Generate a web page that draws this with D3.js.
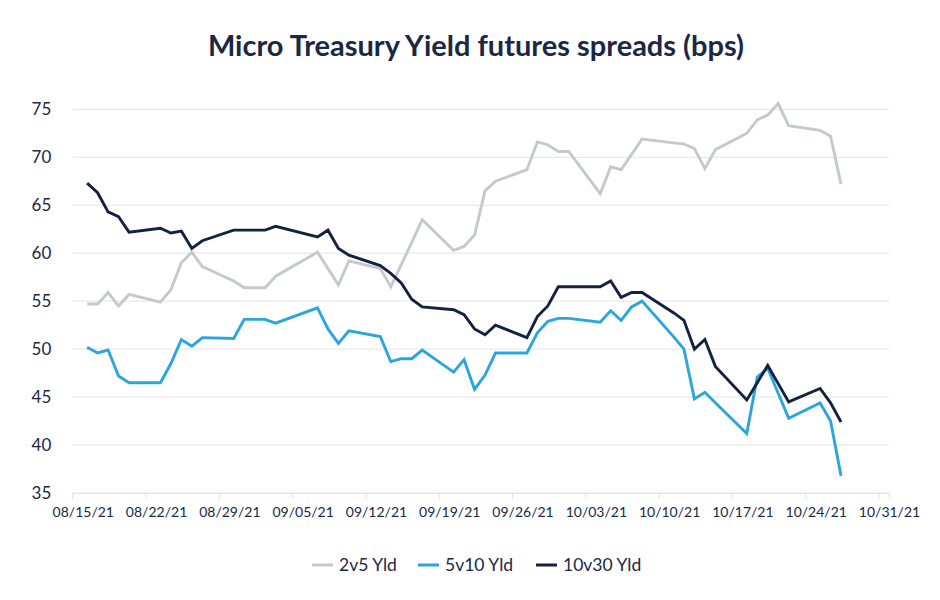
<!DOCTYPE html>
<html>
<head>
<meta charset="utf-8">
<script src="https://cdn.jsdelivr.net/npm/d3@7"></script>
<style>
  html, body { margin: 0; padding: 0; background: #fff; }
  svg { display: block; }
</style>
</head>
<body>
<svg id="chart" width="940" height="600"></svg>
<script>
// ---- Data ----
const dates = [
  "2021-08-16","2021-08-17","2021-08-18","2021-08-19","2021-08-20",
  "2021-08-23","2021-08-24","2021-08-25","2021-08-26","2021-08-27",
  "2021-08-30","2021-08-31","2021-09-01","2021-09-02","2021-09-03",
  "2021-09-07","2021-09-08","2021-09-09","2021-09-10",
  "2021-09-13","2021-09-14","2021-09-15","2021-09-16","2021-09-17",
  "2021-09-20","2021-09-21","2021-09-22","2021-09-23","2021-09-24",
  "2021-09-27","2021-09-28","2021-09-29","2021-09-30","2021-10-01",
  "2021-10-04","2021-10-05","2021-10-06","2021-10-07","2021-10-08",
  "2021-10-11","2021-10-12","2021-10-13","2021-10-14","2021-10-15",
  "2021-10-18","2021-10-19","2021-10-20","2021-10-21","2021-10-22",
  "2021-10-25","2021-10-26","2021-10-27"
];

const yld2v5 = [
  54.7, 54.7, 55.9, 54.5, 55.7,
  54.9, 56.2, 59.0, 60.1, 58.6,
  57.1, 56.4, 56.4, 56.4, 57.6,
  60.1, 58.4, 56.7, 59.2,
  58.4, 56.5, 58.8, 61.1, 63.5,
  60.3, 60.7, 61.9, 66.5, 67.5,
  68.7, 71.6, 71.3, 70.6, 70.6,
  66.2, 69.0, 68.7, 70.3, 71.9,
  71.5, 71.4, 70.9, 68.8, 70.8,
  72.5, 73.9, 74.4, 75.6, 73.3,
  72.8, 72.2, 67.2
];

const yld5v10 = [
  50.2, 49.6, 49.9, 47.2, 46.5,
  46.5, 48.5, 51.0, 50.3, 51.2,
  51.1, 53.1, 53.1, 53.1, 52.7,
  54.3, 52.1, 50.6, 51.9,
  51.3, 48.7, 49.0, 49.0, 49.9,
  47.6, 48.9, 45.8, 47.3, 49.6,
  49.6, 51.7, 52.9, 53.2, 53.2,
  52.8, 54.0, 53.0, 54.4, 55.0,
  51.3, 50.0, 44.8, 45.5, 44.4,
  41.2, 47.1, 48.0, 45.4, 42.8,
  44.4, 42.5, 36.8
];

const yld10v30 = [
  67.3, 66.3, 64.3, 63.8, 62.2,
  62.6, 62.1, 62.3, 60.5, 61.3,
  62.4, 62.4, 62.4, 62.4, 62.8,
  61.7, 62.4, 60.5, 59.8,
  58.7, 57.9, 56.9, 55.2, 54.4,
  54.1, 53.6, 52.1, 51.5, 52.5,
  51.2, 53.4, 54.5, 56.5, 56.5,
  56.5, 57.1, 55.4, 55.9, 55.9,
  53.8, 53.0, 50.0, 51.0, 48.2,
  44.7, 46.5, 48.3, 46.4, 44.5,
  45.9, 44.4, 42.4
];

const seriesNames = ["2v5 Yld", "5v10 Yld", "10v30 Yld"];
const yTicks = [35, 40, 45, 50, 55, 60, 65, 70, 75];
const xTickDates = ["2021-08-15","2021-08-22","2021-08-29","2021-09-05","2021-09-12",
  "2021-09-19","2021-09-26","2021-10-03","2021-10-10","2021-10-17","2021-10-24","2021-10-31"];
const xDomain = ["2021-08-15", "2021-11-01"];
const titleText = "Micro Treasury Yield futures spreads (bps)";

// ---- Setup ----
const colors = ["#c5c9cd", "#2ba6dc", "#15223f"];
const textColor = "#1a2844";
const parse = d3.timeParse("%Y-%m-%d");
const fmt = d3.timeFormat("%m/%d/%y");

const svg = d3.select("#chart");
const margin = { left: 72.3, right: 51, top: 109.3, bottom: 107 };
const W = 940, H = 600;

const x = d3.scaleTime()
  .domain(xDomain.map(parse))
  .range([margin.left, W - margin.right]);
const y = d3.scaleLinear()
  .domain([35, 75])
  .range([H - margin.bottom, margin.top]);

// data points sit late in each trading day
const px = d => x(d3.timeHour.offset(parse(d), 10));

// Title
svg.append("text")
  .attr("x", 476).attr("y", 56)
  .attr("text-anchor", "middle")
  .attr("font-family", "Lato, 'Open Sans', sans-serif")
  .attr("font-weight", 700)
  .attr("font-size", 29)
  .attr("fill", textColor)
  .text(titleText);

// Gridlines
svg.append("g")
  .selectAll("line")
  .data(yTicks)
  .join("line")
  .attr("x1", margin.left).attr("x2", W - margin.right)
  .attr("y1", d => y(d)).attr("y2", d => y(d))
  .attr("stroke", "#e3e4e6").attr("stroke-width", 1);

// Y axis labels
const yAxis = d3.axisLeft(y).tickValues(yTicks).tickSize(0).tickPadding(21);
const gy = svg.append("g").attr("transform", `translate(${margin.left},0)`).call(yAxis);
gy.select(".domain").remove();
gy.selectAll("text")
  .attr("font-family", "Lato, 'Open Sans', sans-serif")
  .attr("font-size", 17)
  .attr("fill", textColor);

// X axis
const xAxis = d3.axisBottom(x)
  .tickValues(xTickDates.map(parse))
  .tickFormat(fmt)
  .tickSize(6)
  .tickPadding(8);
const gx = svg.append("g").attr("transform", `translate(0,${y(35)})`).call(xAxis);
gx.select(".domain").attr("stroke", "#e3e4e6");
gx.selectAll(".tick line").attr("stroke", "#e3e4e6");
gx.selectAll("text")
  .attr("font-family", "Lato, 'Open Sans', sans-serif")
  .attr("font-size", 14)
  .attr("fill", textColor)
  .attr("dx", x(parse("2021-08-16")) - x(parse("2021-08-15")));

// Lines
const allSeries = [yld2v5, yld5v10, yld10v30];
const line = d3.line()
  .x((v, i) => px(dates[i]))
  .y(v => y(v));

svg.append("g")
  .selectAll("path")
  .data(allSeries)
  .join("path")
  .attr("d", d => line(d))
  .attr("fill", "none")
  .attr("stroke", (d, i) => colors[i])
  .attr("stroke-width", 2.9)
  .attr("stroke-linejoin", "miter")
  .attr("stroke-linecap", "butt");

// Legend
const legendX = [312, 418, 536];
const leg = svg.append("g");
seriesNames.forEach((name, i) => {
  leg.append("line")
    .attr("x1", legendX[i]).attr("x2", legendX[i] + 21)
    .attr("y1", 565).attr("y2", 565)
    .attr("stroke", colors[i]).attr("stroke-width", 3);
  leg.append("text")
    .attr("x", legendX[i] + 27).attr("y", 571)
    .attr("font-family", "Lato, 'Open Sans', sans-serif")
    .attr("font-size", 17.5)
    .attr("fill", textColor)
    .text(name);
});
</script>
</body>
</html>
